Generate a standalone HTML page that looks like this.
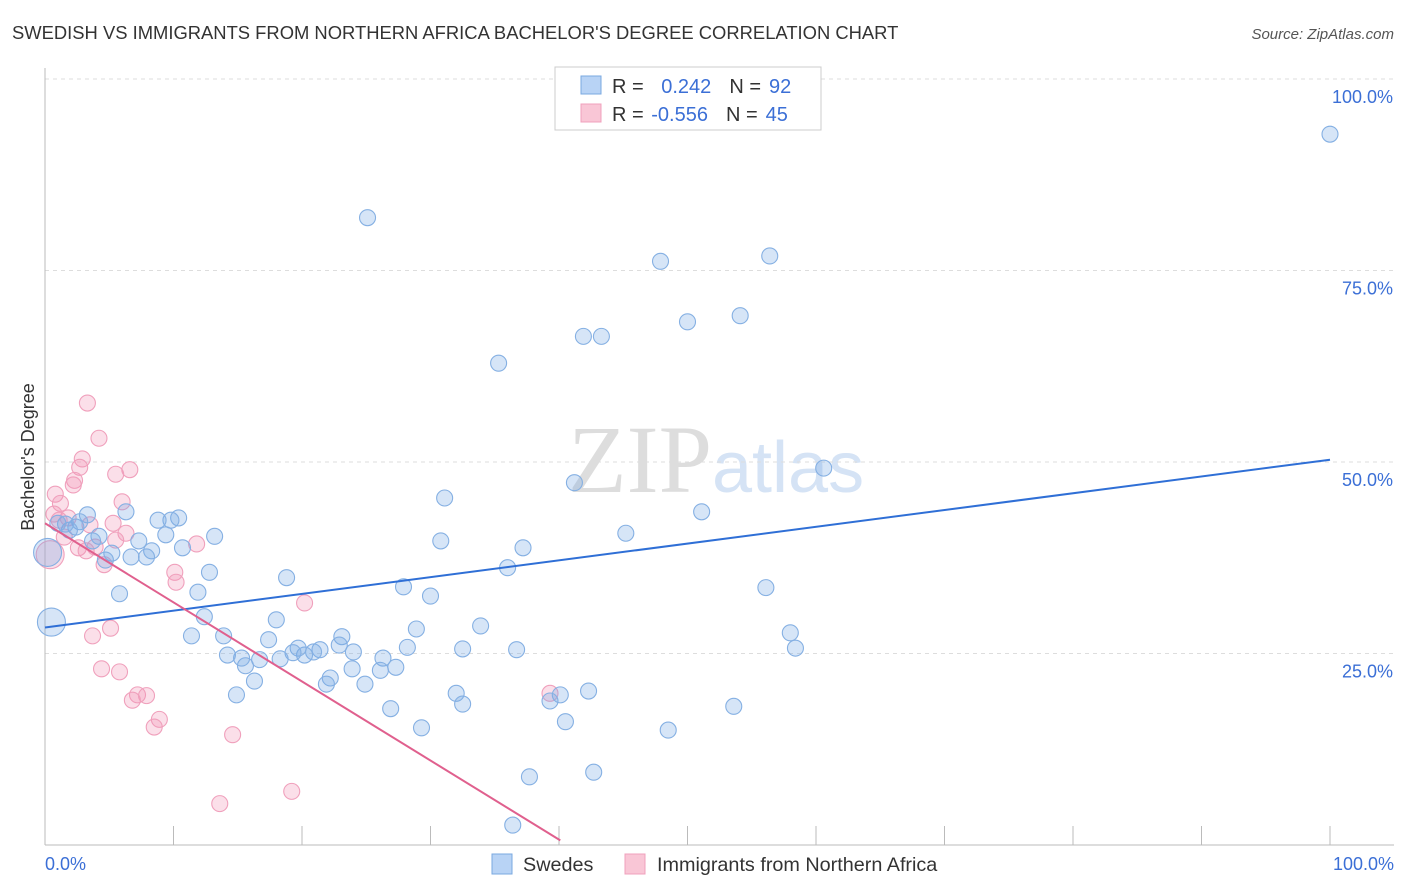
<!DOCTYPE html>
<html><head><meta charset="utf-8"><style>
body{margin:0;background:#fff;font-family:"Liberation Sans",sans-serif}
svg{display:block}
</style></head><body>
<svg id="chart" width="1406" height="892">
<text x="12" y="39" font-size="18.4" fill="#333">SWEDISH VS IMMIGRANTS FROM NORTHERN AFRICA BACHELOR'S DEGREE CORRELATION CHART</text>
<text x="1394" y="39" font-size="15" fill="#555" font-style="italic" text-anchor="end">Source: ZipAtlas.com</text>
<text x="712" y="492" font-size="96" fill="#ddd" text-anchor="end" font-family="Liberation Serif,serif">ZIP</text>
<text x="712" y="492" font-size="72" fill="#d5e3f5">atlas</text>
<text transform="translate(34,457) rotate(-90)" font-size="18" fill="#333" text-anchor="middle">Bachelor's Degree</text>
<g id="grid"></g><g id="ticks"></g><g id="marks"></g>
<g>
<rect x="555" y="67" width="266" height="63" fill="#fff" stroke="#ccc"/>
<rect x="581" y="76" width="20" height="18" fill="#b8d3f5" stroke="#7aa8e0"/>
<rect x="581" y="104" width="20" height="18" fill="#f9c6d6" stroke="#f0a0bc"/>
<text x="612" y="93" font-size="20" fill="#333">R = <tspan fill="#3b6fd6" dx="12">0.242</tspan><tspan dx="18" fill="#333">N =</tspan><tspan fill="#3b6fd6" dx="8">92</tspan></text>
<text x="612" y="121" font-size="20" fill="#333">R = <tspan fill="#3b6fd6" dx="2">-0.556</tspan><tspan dx="18" fill="#333">N =</tspan><tspan fill="#3b6fd6" dx="8">45</tspan></text>
</g>
<g>
<rect x="492" y="854" width="20" height="20" fill="#b8d3f5" stroke="#7aa8e0"/>
<text x="523" y="871" font-size="19.8" fill="#333">Swedes</text>
<rect x="625" y="854" width="20" height="20" fill="#f9c6d6" stroke="#f0a0bc"/>
<text x="657" y="871" font-size="19.8" fill="#333">Immigrants from Northern Africa</text>
</g>
<text x="45" y="870" font-size="18" fill="#3b6fd6">0.0%</text>
<text x="1394" y="870" font-size="18" fill="#3b6fd6" text-anchor="end">100.0%</text>
</svg>
<script>
const yTicks=[25,50,75,100];
const yTickLabels=["25.0%","50.0%","75.0%","100.0%"];
const xTicks=[0,10,20,30,40,50,60,70,80,90,100];
const blueX=[100,25.1,47.9,56.4,50.0,54.1,41.9,43.3,35.3,60.6,41.2,31.1,51.1,45.2,30.8,37.2,36.0,56.1,27.9,30.0,18.8,33.9,28.9,58.0,58.4,36.7,32.5,28.2,23.1,22.9,24.0,26.3,27.3,26.1,23.9,24.9,22.2,21.9,21.4,20.9,20.2,19.7,19.3,18.0,17.4,18.3,16.7,15.6,15.3,14.2,16.3,14.9,13.9,11.4,12.4,11.9,12.8,13.2,10.7,10.4,9.8,8.8,9.4,8.3,7.9,7.3,6.7,6.3,5.8,5.2,4.7,4.2,3.7,3.3,2.7,2.4,1.9,1.6,1.0,0.5,0.2,40.1,42.3,39.3,32.0,32.5,26.9,29.3,40.5,48.5,53.6,37.7,42.7,36.4];
const blueY=[92.8,81.9,76.2,76.9,68.3,69.1,66.4,66.4,62.9,49.2,47.3,45.3,43.5,40.7,39.7,38.8,36.2,33.6,33.7,32.5,34.9,28.6,28.2,27.7,25.7,25.5,25.6,25.8,27.2,26.1,25.2,24.4,23.2,22.8,23.0,21.0,21.8,21.0,25.5,25.2,24.8,25.7,25.1,29.4,26.8,24.3,24.2,23.4,24.4,24.8,21.4,19.6,27.3,27.3,29.8,33.0,35.6,40.3,38.8,42.7,42.4,42.4,40.5,38.4,37.6,39.7,37.6,43.5,32.8,38.1,37.2,40.3,39.7,43.1,42.2,41.5,41.1,41.9,42.0,29.1,38.2,19.6,20.1,18.8,19.8,18.4,17.8,15.3,16.1,15.0,18.1,8.9,9.5,2.6];
const pinkX=[3.3,4.2,2.9,2.7,6.6,5.5,2.3,2.2,0.8,1.2,6.0,0.7,1.8,1.1,3.5,5.3,6.3,1.5,5.5,3.9,2.6,3.2,11.8,4.6,0.4,10.1,10.2,20.2,5.1,3.7,4.4,5.8,7.2,7.9,6.8,8.9,8.5,14.6,39.3,13.6,19.2];
const pinkY=[57.7,53.1,50.4,49.3,49.0,48.4,47.6,47.0,45.8,44.6,44.8,43.2,42.7,42.4,41.8,42.0,40.7,40.2,39.8,38.9,38.8,38.4,39.3,36.6,37.9,35.6,34.3,31.6,28.3,27.3,23.0,22.6,19.6,19.5,18.9,16.4,15.4,14.4,19.8,5.4,7.0];
const blueLine=[[0,28.4],[100,50.3]];
const pinkLine=[[0,42.0],[40.1,0.6]];
const NS="http://www.w3.org/2000/svg";
const sx=v=>45+v*12.85, sy=v=>845-v*7.66;
function mk(t,a,p){const e=document.createElementNS(NS,t);for(const k in a)e.setAttribute(k,a[k]);p.appendChild(e);return e;}
const grid=document.getElementById('grid'),ticks=document.getElementById('ticks'),marks=document.getElementById('marks');
yTicks.forEach((v,i)=>{
 const l=mk('line',{x1:45,x2:1394,y1:sy(v),y2:sy(v),stroke:'#ddd','stroke-dasharray':'4,4'},grid);
 
 
 const t=mk('text',{x:1393,y:sy(v)+24,'font-size':18,fill:'#3b6fd6','text-anchor':'end'},grid);
 t.textContent=yTickLabels[i];
 
 
});
const ax=mk('line',{x1:45,x2:1394,y1:845,y2:845,stroke:'#bbb'},ticks);


const ay=mk('line',{x1:45,x2:45,y1:68,y2:845,stroke:'#bbb'},ticks);


xTicks.forEach(v=>{
 const l=mk('line',{x1:sx(v),x2:sx(v),y1:826,y2:845,stroke:'#bbb'},ticks);
 
 
});
function pts(X,Y,fill,stroke,name){X.forEach((x,i)=>{
 const big=(x<0.6&&(Y[i]>28&&Y[i]<39));
 const c=mk('circle',{cx:sx(x),cy:sy(Y[i]),r:big?14:8,fill:fill,stroke:stroke,'stroke-width':1.1},marks);
 
 
});}
pts(pinkX,pinkY,'rgba(242,150,182,0.3)','#f0a0bc','point-immigrants');
pts(blueX,blueY,'rgba(120,170,230,0.3)','#85b0e3','point-swedes');
const bl=mk('line',{x1:sx(blueLine[0][0]),y1:sy(blueLine[0][1]),x2:sx(blueLine[1][0]),y2:sy(blueLine[1][1]),stroke:'#2f6fd6','stroke-width':2},marks);


const pl=mk('line',{x1:sx(pinkLine[0][0]),y1:sy(pinkLine[0][1]),x2:sx(pinkLine[1][0]),y2:sy(pinkLine[1][1]),stroke:'#e0608e','stroke-width':2},marks);


</script>
</body></html>
